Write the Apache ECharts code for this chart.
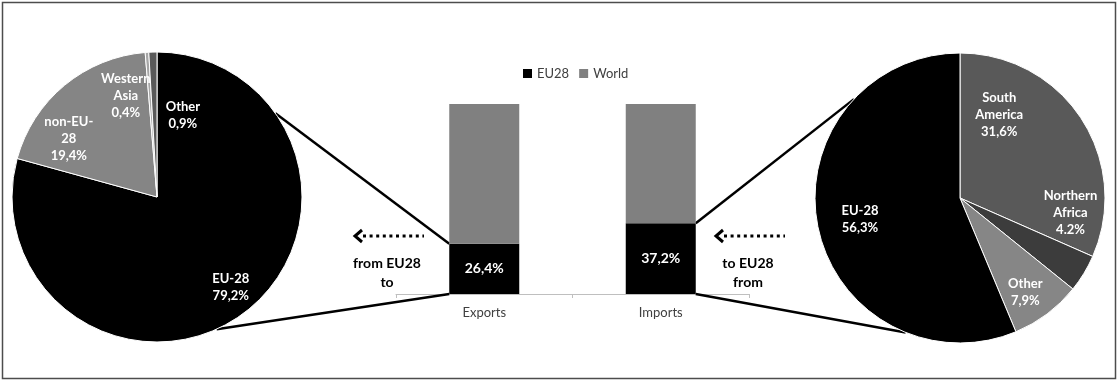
<!DOCTYPE html>
<html>
<head>
<meta charset="utf-8">
<script src="https://cdn.jsdelivr.net/npm/echarts@6/dist/echarts.min.js"></script>
<style>
  html, body { margin: 0; padding: 0; background: #ffffff; }
  #chart { width: 1119px; height: 381px; }
</style>
</head>
<body>
<div id="chart"></div>
<script>
// Trade flows: share of EU28 partners in exports and imports
const flowCategories = ['Exports', 'Imports'];
const eu28Share = [26.4, 37.2];
const worldShare = [73.6, 62.8];
const legendNames = ['EU28', 'World'];

// Exports from EU28, by destination
const exportNames = ['EU-28', 'non-EU-\n28', 'Western\nAsia', 'Other'];
const exportValues = [79.2, 19.4, 0.4, 0.9];

// Imports to EU28, by origin
const importNames = ['South\nAmerica', 'Northern\nAfrica', 'Other', 'EU-28'];
const importValues = [31.6, 4.2, 7.9, 56.3];
const importDecimalMarks = [',', '.', ',', ','];

const exportColors = ['#000000', '#858585', '#a6a6a6', '#595959'];
const importColors = ['#595959', '#3c3c3c', '#868686', '#000000'];

const FONT = 'Lato, "Open Sans", sans-serif';
const pieRadius = 145;
const exportPieCenter = [157, 197];
const importPieCenter = [960, 198];

// label nudges inside the pie slices
const exportLabelShift = [[14, 15], [-20, 0], [-13, -13], [14, -3]];
const importLabelShift = [[-12, -21], [23, -12], [10, 17], [-13, 3]];

// where the connector lines meet each pie (degrees clockwise from 12 o'clock)
const exportLinkAngles = [54.7, 155.7];
const importLinkAngles = [313, 202];

function pct(v, mark) {
  return v.toFixed(1).replace('.', mark || ',') + '%';
}

function pieData(names, values, colors) {
  return values.map(function (v, i) {
    return { name: names[i], value: v, itemStyle: { color: colors[i] } };
  });
}

const pieLabel = {
  show: true,
  position: 'inside',
  color: '#ffffff',
  fontFamily: FONT,
  fontWeight: 'bold',
  fontSize: 13,
  lineHeight: 17,
  align: 'center'
};

const chart = echarts.init(document.getElementById('chart'), null, { renderer: 'canvas' });

chart.setOption({
  animation: false,
  backgroundColor: '#ffffff',
  legend: {
    data: legendNames,
    left: 518,
    top: 62,
    icon: 'rect',
    itemWidth: 9,
    itemHeight: 9,
    itemGap: 10,
    textStyle: { fontFamily: FONT, fontSize: 13, color: '#404040' }
  },
  grid: { left: 396, right: 370, top: 104, bottom: 87 },
  xAxis: {
    type: 'category',
    data: flowCategories,
    axisLine: { lineStyle: { color: '#bfbfbf', width: 1 } },
    axisTick: { show: true, length: 4, lineStyle: { color: '#bfbfbf' } },
    axisLabel: { color: '#404040', fontFamily: FONT, fontSize: 13, margin: 12 }
  },
  yAxis: { type: 'value', min: 0, max: 100, show: false },
  series: [
    {
      name: 'EU28',
      type: 'bar',
      stack: 'share',
      data: eu28Share,
      barWidth: 70,
      itemStyle: { color: '#000000' },
      label: {
        show: true,
        position: 'inside',
        color: '#ffffff',
        fontFamily: FONT,
        fontWeight: 'bold',
        fontSize: 14,
        formatter: function (p) { return pct(p.value); }
      }
    },
    {
      name: 'World',
      type: 'bar',
      stack: 'share',
      data: worldShare,
      barWidth: 70,
      itemStyle: { color: '#808080' }
    },
    {
      name: 'Exports by destination',
      type: 'pie',
      center: exportPieCenter,
      radius: pieRadius,
      startAngle: 90,
      clockwise: true,
      z: 3,
      data: pieData(exportNames, exportValues, exportColors),
      itemStyle: { borderColor: '#ffffff', borderWidth: 1 },
      label: Object.assign({}, pieLabel, {
        formatter: function (p) { return p.name + '\n' + pct(p.value); }
      }),
      labelLine: { show: false },
      labelLayout: function (p) {
        const s = exportLabelShift[p.dataIndex];
        return { dx: s[0], dy: s[1] };
      },
      emphasis: { disabled: true }
    },
    {
      name: 'Imports by origin',
      type: 'pie',
      center: importPieCenter,
      radius: pieRadius,
      startAngle: 90,
      clockwise: true,
      z: 3,
      data: pieData(importNames, importValues, importColors),
      itemStyle: { borderColor: '#ffffff', borderWidth: 1 },
      label: Object.assign({}, pieLabel, {
        formatter: function (p) { return p.name + '\n' + pct(p.value, importDecimalMarks[p.dataIndex]); }
      }),
      labelLine: { show: false },
      labelLayout: function (p) {
        const s = importLabelShift[p.dataIndex];
        return { dx: s[0], dy: s[1] };
      },
      emphasis: { disabled: true }
    }
  ]
});

// Connector lines from each pie to the EU28 segment of its bar
function rimPoint(center, deg) {
  const a = deg * Math.PI / 180;
  return [center[0] + pieRadius * Math.sin(a), center[1] - pieRadius * Math.cos(a)];
}

const halfBar = 35;
const expTop = chart.convertToPixel({ seriesIndex: 0 }, [flowCategories[0], eu28Share[0]]);
const expBase = chart.convertToPixel({ seriesIndex: 0 }, [flowCategories[0], 0]);
const impTop = chart.convertToPixel({ seriesIndex: 0 }, [flowCategories[1], eu28Share[1]]);
const impBase = chart.convertToPixel({ seriesIndex: 0 }, [flowCategories[1], 0]);

function link(p1, p2) {
  return {
    type: 'line',
    z: 1,
    silent: true,
    shape: { x1: p1[0], y1: p1[1], x2: p2[0], y2: p2[1] },
    style: { stroke: '#000000', lineWidth: 2.5 }
  };
}

function dottedArrow(x, y) {
  return {
    type: 'group',
    x: x,
    y: y,
    silent: true,
    children: [
      { type: 'polyline', shape: { points: [[8, -6], [1, 0], [8, 6]] },
        style: { stroke: '#000000', lineWidth: 3, fill: null } },
      { type: 'line', shape: { x1: 9, y1: 0, x2: 70, y2: 0 },
        style: { stroke: '#000000', lineWidth: 3, lineDash: [3, 3.6] } }
    ]
  };
}

function caption(x, y, text) {
  return {
    type: 'text',
    x: x,
    y: y,
    silent: true,
    style: {
      text: text,
      fill: '#000000',
      font: 'bold 14px ' + FONT,
      lineHeight: 19,
      align: 'center',
      verticalAlign: 'top'
    }
  };
}

chart.setOption({
  graphic: [
    {
      type: 'rect',
      silent: true,
      shape: { x: 2.5, y: 2.5, width: 1113, height: 376 },
      style: { fill: null, stroke: '#4d4d4d', lineWidth: 1.5 }
    },
    link(rimPoint(exportPieCenter, exportLinkAngles[0]), [expTop[0] - halfBar, expTop[1]]),
    link(rimPoint(exportPieCenter, exportLinkAngles[1]), [expBase[0] - halfBar, expBase[1]]),
    link(rimPoint(importPieCenter, importLinkAngles[0]), [impTop[0] + halfBar, impTop[1]]),
    link(rimPoint(importPieCenter, importLinkAngles[1]), [impBase[0] + halfBar, impBase[1]]),
    dottedArrow(354, 236),
    dottedArrow(715, 236),
    caption(387, 254, 'from EU28\nto'),
    caption(748, 254, 'to EU28\nfrom')
  ]
});
</script>
</body>
</html>
